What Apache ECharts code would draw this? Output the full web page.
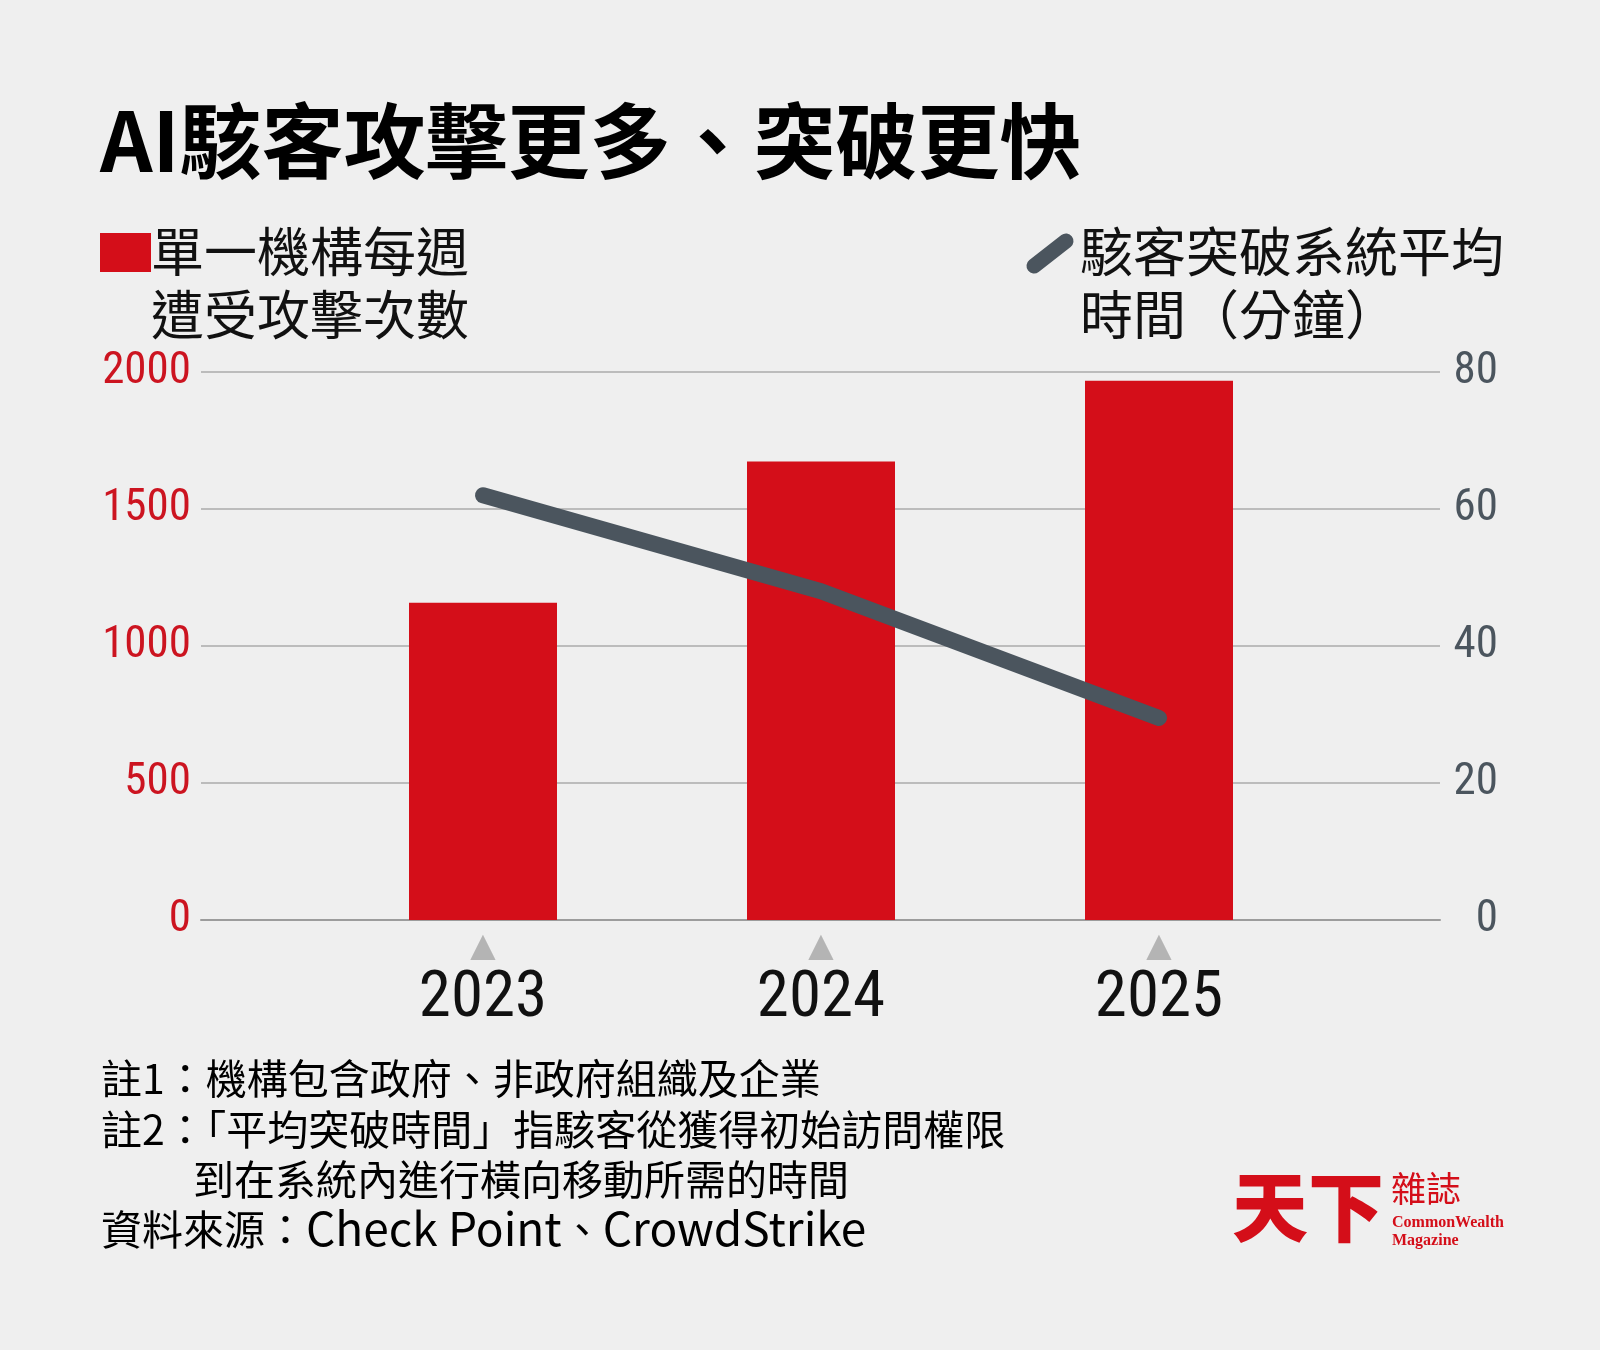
<!DOCTYPE html>
<html>
<head>
<meta charset="utf-8">
<script src="https://cdn.jsdelivr.net/npm/echarts@6/dist/echarts.min.js"></script>
<style>
  html, body { margin: 0; padding: 0; background: #efefef; }
  #chart { width: 1600px; height: 1350px; }
</style>
</head>
<body>
<div id="chart"></div>
<script>
// 資料
var years = ['2023', '2024', '2025'];
var weeklyAttacks = [1158, 1673, 1968];   // 單一機構每週遭受攻擊次數
var breakoutMinutes = [62, 48, 29.5];     // 駭客突破系統平均時間（分鐘）
var leftTicks = [0, 500, 1000, 1500, 2000];
var rightTicks = [0, 20, 40, 60, 80];

var RED = '#d40e19';
var SLATE = '#4b555e';
var CJK = '"Noto Sans CJK TC", "Noto Sans CJK SC", sans-serif';
var NUM = '"Liberation Sans Narrow", "Roboto Condensed", "DejaVu Sans Condensed", Roboto, sans-serif';

var chart = echarts.init(document.getElementById('chart'));

var gridTop = 372, gridBottom = 430;

// 註解文字：英文字稍大
var noteRich = {
    c: {fontFamily: CJK, fontSize: 41, color: '#111', verticalAlign: 'middle'},
    l: {fontFamily: CJK, fontSize: 46, color: '#111', verticalAlign: 'middle'}
};

chart.setOption({
    backgroundColor: '#efefef',
    animation: false,
    grid: [
        {left: 201, right: 160, top: gridTop, bottom: gridBottom},
        {left: 314, right: 272, top: gridTop, bottom: gridBottom}
    ],
    xAxis: [
        {
            type: 'value', gridIndex: 0, min: 0, max: 1,
            axisLine: {show: true, lineStyle: {color: '#9c9c9c', width: 2}},
            axisTick: {show: false}, axisLabel: {show: false}, splitLine: {show: false}
        },
        {
            type: 'category', gridIndex: 1, data: years,
            axisLine: {show: false}, axisTick: {show: false},
            axisLabel: {
                interval: 0,
                margin: 12,
                formatter: function (v) { return '{t|▲}\n{y|' + v + '}'; },
                rich: {
                    t: {fontFamily: '"DejaVu Sans"', fontSize: 33, color: '#b4b4b4', lineHeight: 30},
                    y: {fontFamily: NUM, fontSize: 65, color: '#111', lineHeight: 76}
                }
            }
        }
    ],
    yAxis: [
        {
            type: 'value', gridIndex: 0, min: leftTicks[0], max: leftTicks[leftTicks.length - 1], interval: 500,
            position: 'left',
            axisLine: {show: false}, axisTick: {show: false},
            axisLabel: {margin: 10, color: '#cc1420', fontSize: 45, fontFamily: NUM,
                formatter: function (v) { return String(v); }},
            splitLine: {lineStyle: {color: '#bcbcbc', width: 2}}
        },
        {
            type: 'value', gridIndex: 0, min: rightTicks[0], max: rightTicks[rightTicks.length - 1], interval: 20,
            position: 'right',
            axisLine: {show: false}, axisTick: {show: false},
            axisLabel: {margin: 58, align: 'right', color: '#4b555e', fontSize: 45, fontFamily: NUM},
            splitLine: {show: false}
        },
        {
            type: 'value', gridIndex: 1, min: 0, max: 2000, show: false
        },
        {
            type: 'value', gridIndex: 1, min: 0, max: 80, show: false
        }
    ],
    series: [
        {
            name: '單一機構每週遭受攻擊次數',
            type: 'bar',
            xAxisIndex: 1, yAxisIndex: 2,
            data: weeklyAttacks,
            barWidth: 148,
            itemStyle: {color: RED}
        },
        {
            name: '駭客突破系統平均時間（分鐘）',
            type: 'line',
            xAxisIndex: 1, yAxisIndex: 3,
            data: breakoutMinutes,
            symbol: 'none',
            lineStyle: {color: SLATE, width: 16, cap: 'round', join: 'round'}
        }
    ],
    graphic: [
        // 標題
        {type: 'text', x: 100, y: 141, style: {text: 'AI駭客攻擊更多、突破更快', fontFamily: CJK, fontWeight: 'bold', fontSize: 82, fill: '#000', verticalAlign: 'middle'}},
        // 圖例
        {type: 'rect', shape: {x: 100, y: 233, width: 51, height: 39}, style: {fill: RED}},
        {type: 'text', x: 151, y: 252, style: {text: '單一機構每週', fontFamily: CJK, fontSize: 53, fill: '#111', verticalAlign: 'middle'}},
        {type: 'text', x: 151, y: 315, style: {text: '遭受攻擊次數', fontFamily: CJK, fontSize: 53, fill: '#111', verticalAlign: 'middle'}},
        {type: 'line', shape: {x1: 1034, y1: 266, x2: 1066, y2: 241}, style: {stroke: SLATE, lineWidth: 15, lineCap: 'round'}},
        {type: 'text', x: 1080, y: 252, style: {text: '駭客突破系統平均', fontFamily: CJK, fontSize: 53, fill: '#111', verticalAlign: 'middle'}},
        {type: 'text', x: 1080, y: 315, style: {text: '時間（分鐘）', fontFamily: CJK, fontSize: 53, fill: '#111', verticalAlign: 'middle'}},
        // 註解
        {type: 'text', x: 101, y: 1078, style: {text: '{c|註1：機構包含政府、非政府組織及企業}', rich: noteRich, verticalAlign: 'middle'}},
        {type: 'text', x: 101, y: 1129, style: {text: '{c|註2：「平均突破時間」指駭客從獲得初始訪問權限}', rich: noteRich, verticalAlign: 'middle'}},
        {type: 'text', x: 193, y: 1179, style: {text: '{c|到在系統內進行橫向移動所需的時間}', rich: noteRich, verticalAlign: 'middle'}},
        {type: 'text', x: 101, y: 1229, style: {text: '{c|資料來源：}{l|Check Point}{c|、}{l|CrowdStrike}', rich: noteRich, verticalAlign: 'middle'}},
        // 天下雜誌 logo
        {type: 'text', x: 1232, y: 1207, style: {text: '天下', fontFamily: CJK, fontWeight: 900, fontSize: 76, fill: RED, verticalAlign: 'middle'}},
        {type: 'text', x: 1391, y: 1189, style: {text: '雜誌', fontFamily: CJK, fontSize: 35, fill: RED, verticalAlign: 'middle'}},
        {type: 'text', x: 1392, y: 1223, style: {text: 'CommonWealth', fontFamily: '"Liberation Serif", serif', fontWeight: 'bold', fontSize: 16, fill: RED, verticalAlign: 'middle'}},
        {type: 'text', x: 1392, y: 1241, style: {text: 'Magazine', fontFamily: '"Liberation Serif", serif', fontWeight: 'bold', fontSize: 16, fill: RED, verticalAlign: 'middle'}}
    ]
});
</script>
</body>
</html>
